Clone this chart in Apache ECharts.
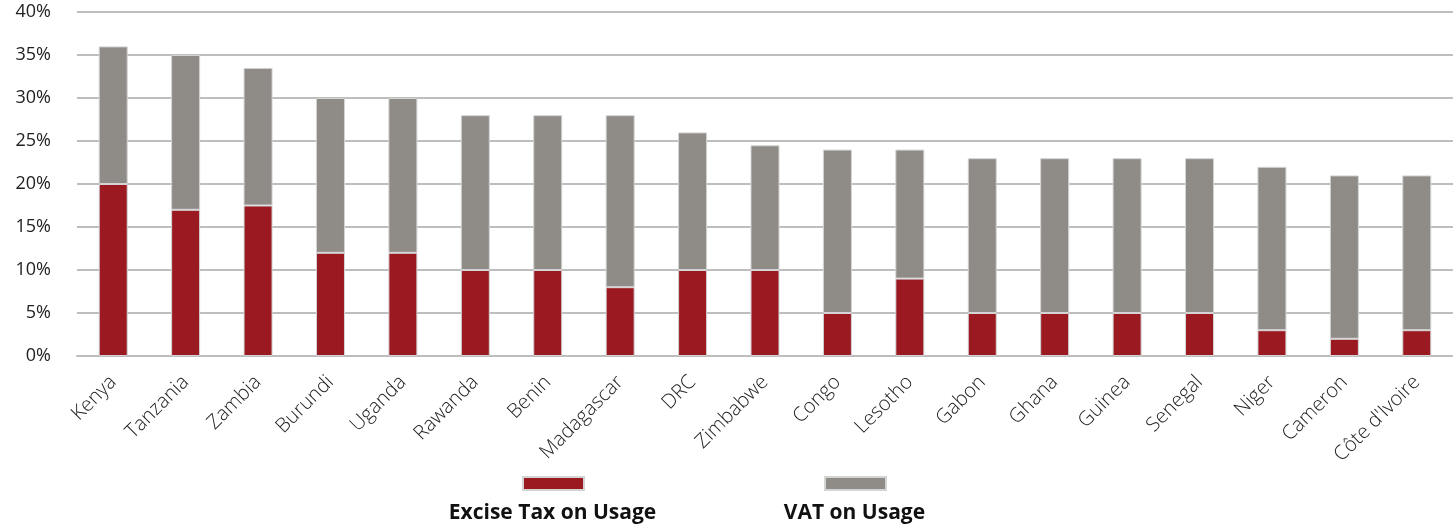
<!DOCTYPE html>
<html>
<head>
<meta charset="utf-8">
<script src="https://cdn.jsdelivr.net/npm/echarts@6/dist/echarts.min.js"></script>
<style>
  html, body { margin: 0; padding: 0; background: #fff; }
  #chart { width: 1453px; height: 530px; }
</style>
</head>
<body>
<div id="chart"></div>
<script>
// Taxes on mobile usage by country (% of usage cost)
const countries = ['Kenya', 'Tanzania', 'Zambia', 'Burundi', 'Uganda', 'Rawanda', 'Benin', 'Madagascar', 'DRC', 'Zimbabwe', 'Congo', 'Lesotho', 'Gabon', 'Ghana', 'Guinea', 'Senegal', 'Niger', 'Cameron', "Côte d'Ivoire"];
const exciseTax = [20, 17, 17.5, 12, 12, 10, 10, 8, 10, 10, 5, 9, 5, 5, 5, 5, 3, 2, 3];
const vatTax = [16, 18, 16, 18, 18, 18, 18, 20, 16, 14.5, 19, 15, 18, 18, 18, 18, 19, 19, 18];
const yTicks = [0, 5, 10, 15, 20, 25, 30, 35, 40];

const seriesNames = ['Excise Tax on Usage', 'VAT on Usage'];
const colors = ['#9b1a21', '#8f8b87'];

const chart = echarts.init(document.getElementById('chart'));
const font = '"Open Sans", "Noto Sans", sans-serif';

chart.setOption({
  animation: false,
  color: colors,
  grid: { left: 77, right: 0, top: 12, bottom: 174 },
  xAxis: {
    type: 'category',
    data: countries,
    axisTick: { show: false },
    axisLine: { show: true, lineStyle: { color: '#bdbdbd', width: 2 } },
    axisLabel: {
      interval: 0,
      rotate: 45,
      margin: 23,
      color: '#222',
      fontFamily: font,
      fontWeight: 300,
      fontSize: 20
    }
  },
  yAxis: {
    type: 'value',
    min: yTicks[0],
    max: yTicks[yTicks.length - 1],
    interval: 5,
    axisLine: { show: false },
    axisTick: { show: false },
    splitLine: { lineStyle: { color: '#a8a8a8', width: 1.5 } },
    axisLabel: {
      margin: 26,
      color: '#222',
      fontFamily: font,
      fontSize: 18,
      formatter: v => v + '%'
    }
  },
  legend: [
    {
      data: [seriesNames[0]],
      left: 522, top: 476, padding: 0,
      itemWidth: 61, itemHeight: 13,
      icon: 'rect',
      formatter: () => '',
      selectedMode: false
    },
    {
      data: [seriesNames[1]],
      left: 824, top: 476, padding: 0,
      itemWidth: 61, itemHeight: 13,
      icon: 'rect',
      formatter: () => '',
      selectedMode: false
    }
  ],
  graphic: [
    {
      type: 'text', x: 552.5, y: 513,
      style: { text: seriesNames[0], font: 'bold 21px ' + font, fill: '#111', align: 'center', verticalAlign: 'middle' }
    },
    {
      type: 'text', x: 854.5, y: 513,
      style: { text: seriesNames[1], font: 'bold 21px ' + font, fill: '#111', align: 'center', verticalAlign: 'middle' }
    }
  ],
  series: [
    {
      name: seriesNames[0],
      type: 'bar',
      stack: 'tax',
      barWidth: 29,
      data: exciseTax,
      itemStyle: { color: colors[0], borderColor: '#d4d4d4', borderWidth: 1 }
    },
    {
      name: seriesNames[1],
      type: 'bar',
      stack: 'tax',
      barWidth: 29,
      data: vatTax,
      itemStyle: { color: colors[1], borderColor: '#d4d4d4', borderWidth: 1 }
    }
  ]
});
</script>
</body>
</html>
